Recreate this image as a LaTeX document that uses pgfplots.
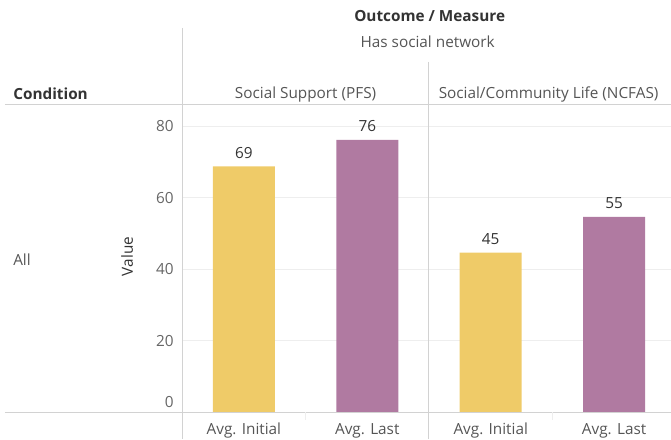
\documentclass[border=0pt]{standalone}
\usepackage{pgfplots}
\pgfplotsset{compat=1.18}
\usepackage{fontspec}
\setmainfont{Open Sans}
\definecolor{barY}{HTML}{EFCB68}
\definecolor{barP}{HTML}{B07AA1}
\definecolor{rulec}{HTML}{D2D2D2}
\definecolor{gridc}{HTML}{EEEEEE}
\definecolor{txt}{HTML}{333333}
\definecolor{subt}{HTML}{555555}
\definecolor{tickc}{HTML}{666666}
\newcommand\tf{\fontsize{11.5pt}{13pt}\selectfont}
\begin{document}
\begin{tikzpicture}
\begin{scope}[x=0.75pt,y=-0.75pt]
\useasboundingbox (0,0) rectangle (671,439);
\clip (0,0) rectangle (671,439);
\end{scope}
\begin{axis}[
  at={(136.725pt,-309.375pt)}, anchor=south west,
  scale only axis, width=366.525pt, height=230.625pt,
  xmin=-0.5, xmax=3.457, ymin=0, ymax=85.9,
  ybar, bar width=46.5pt,
  axis line style={draw=none},
  major tick length=0pt,
  ytick={20,40,60,80},
  extra y ticks={0},
  extra y tick style={grid=none, yticklabel style={yshift=7.5pt}},
  ymajorgrids, grid style={gridc, line width=0.75pt},
  xtick={0,1,2,3},
  xticklabels={Avg. Initial, Avg. Last, Avg. Initial, Avg. Last},
  xticklabel style={anchor=base, yshift=-16.4pt, inner sep=0pt, text=subt, font=\tf},
  yticklabel style={anchor=east, xshift=-6.2pt, inner sep=0pt, text=tickc, font=\tf},
  /pgf/number format/assume math mode=true,
  nodes near coords={\pgfmathprintnumber[fixed,precision=0,assume math mode=true]{\pgfplotspointmeta}},
  every node near coord/.append style={anchor=base, yshift=6pt, inner sep=0pt, text=txt, font=\tf},
]
\addplot[fill=barY, draw=none, bar shift=0pt] coordinates {(0,68.7) (2,44.6)};
\addplot[fill=barP, draw=none, bar shift=0pt] coordinates {(1,76.1) (3,54.6)};
\end{axis}
\begin{scope}[x=0.75pt,y=-0.75pt]
\draw[rulec, line width=0.75pt] (182.3,28) -- (182.3,439);
\draw[rulec, line width=0.75pt] (429.3,62) -- (429.3,439);
\draw[rulec, line width=0.75pt] (5,105) -- (671,105);
\draw[rulec, line width=0.75pt] (5,412.5) -- (671,412.5);
\draw[gridc, line width=0.75pt] (305.8,412.5) -- (305.8,420);
\draw[gridc, line width=0.75pt] (553,412.5) -- (553,420);
\node[font=\tf\bfseries, text=txt] at (430,16) {Outcome / Measure};
\node[font=\tf, text=subt] at (428,42) {Has social network};
\node[font=\tf\bfseries, text=txt, anchor=west, inner sep=0pt] at (13,94) {Condition};
\node[font=\tf, text=subt] at (305.8,95) {Social Support (PFS)};
\node[font=\tf, text=subt] at (549,95) {Social/Community Life (NCFAS)};
\node[font=\tf, text=subt, anchor=west, inner sep=0pt] at (13,260) {All};
\node[font=\tf, text=txt, rotate=90] at (127.3,256.7) {Value};
\end{scope}
\end{tikzpicture}
\end{document}
